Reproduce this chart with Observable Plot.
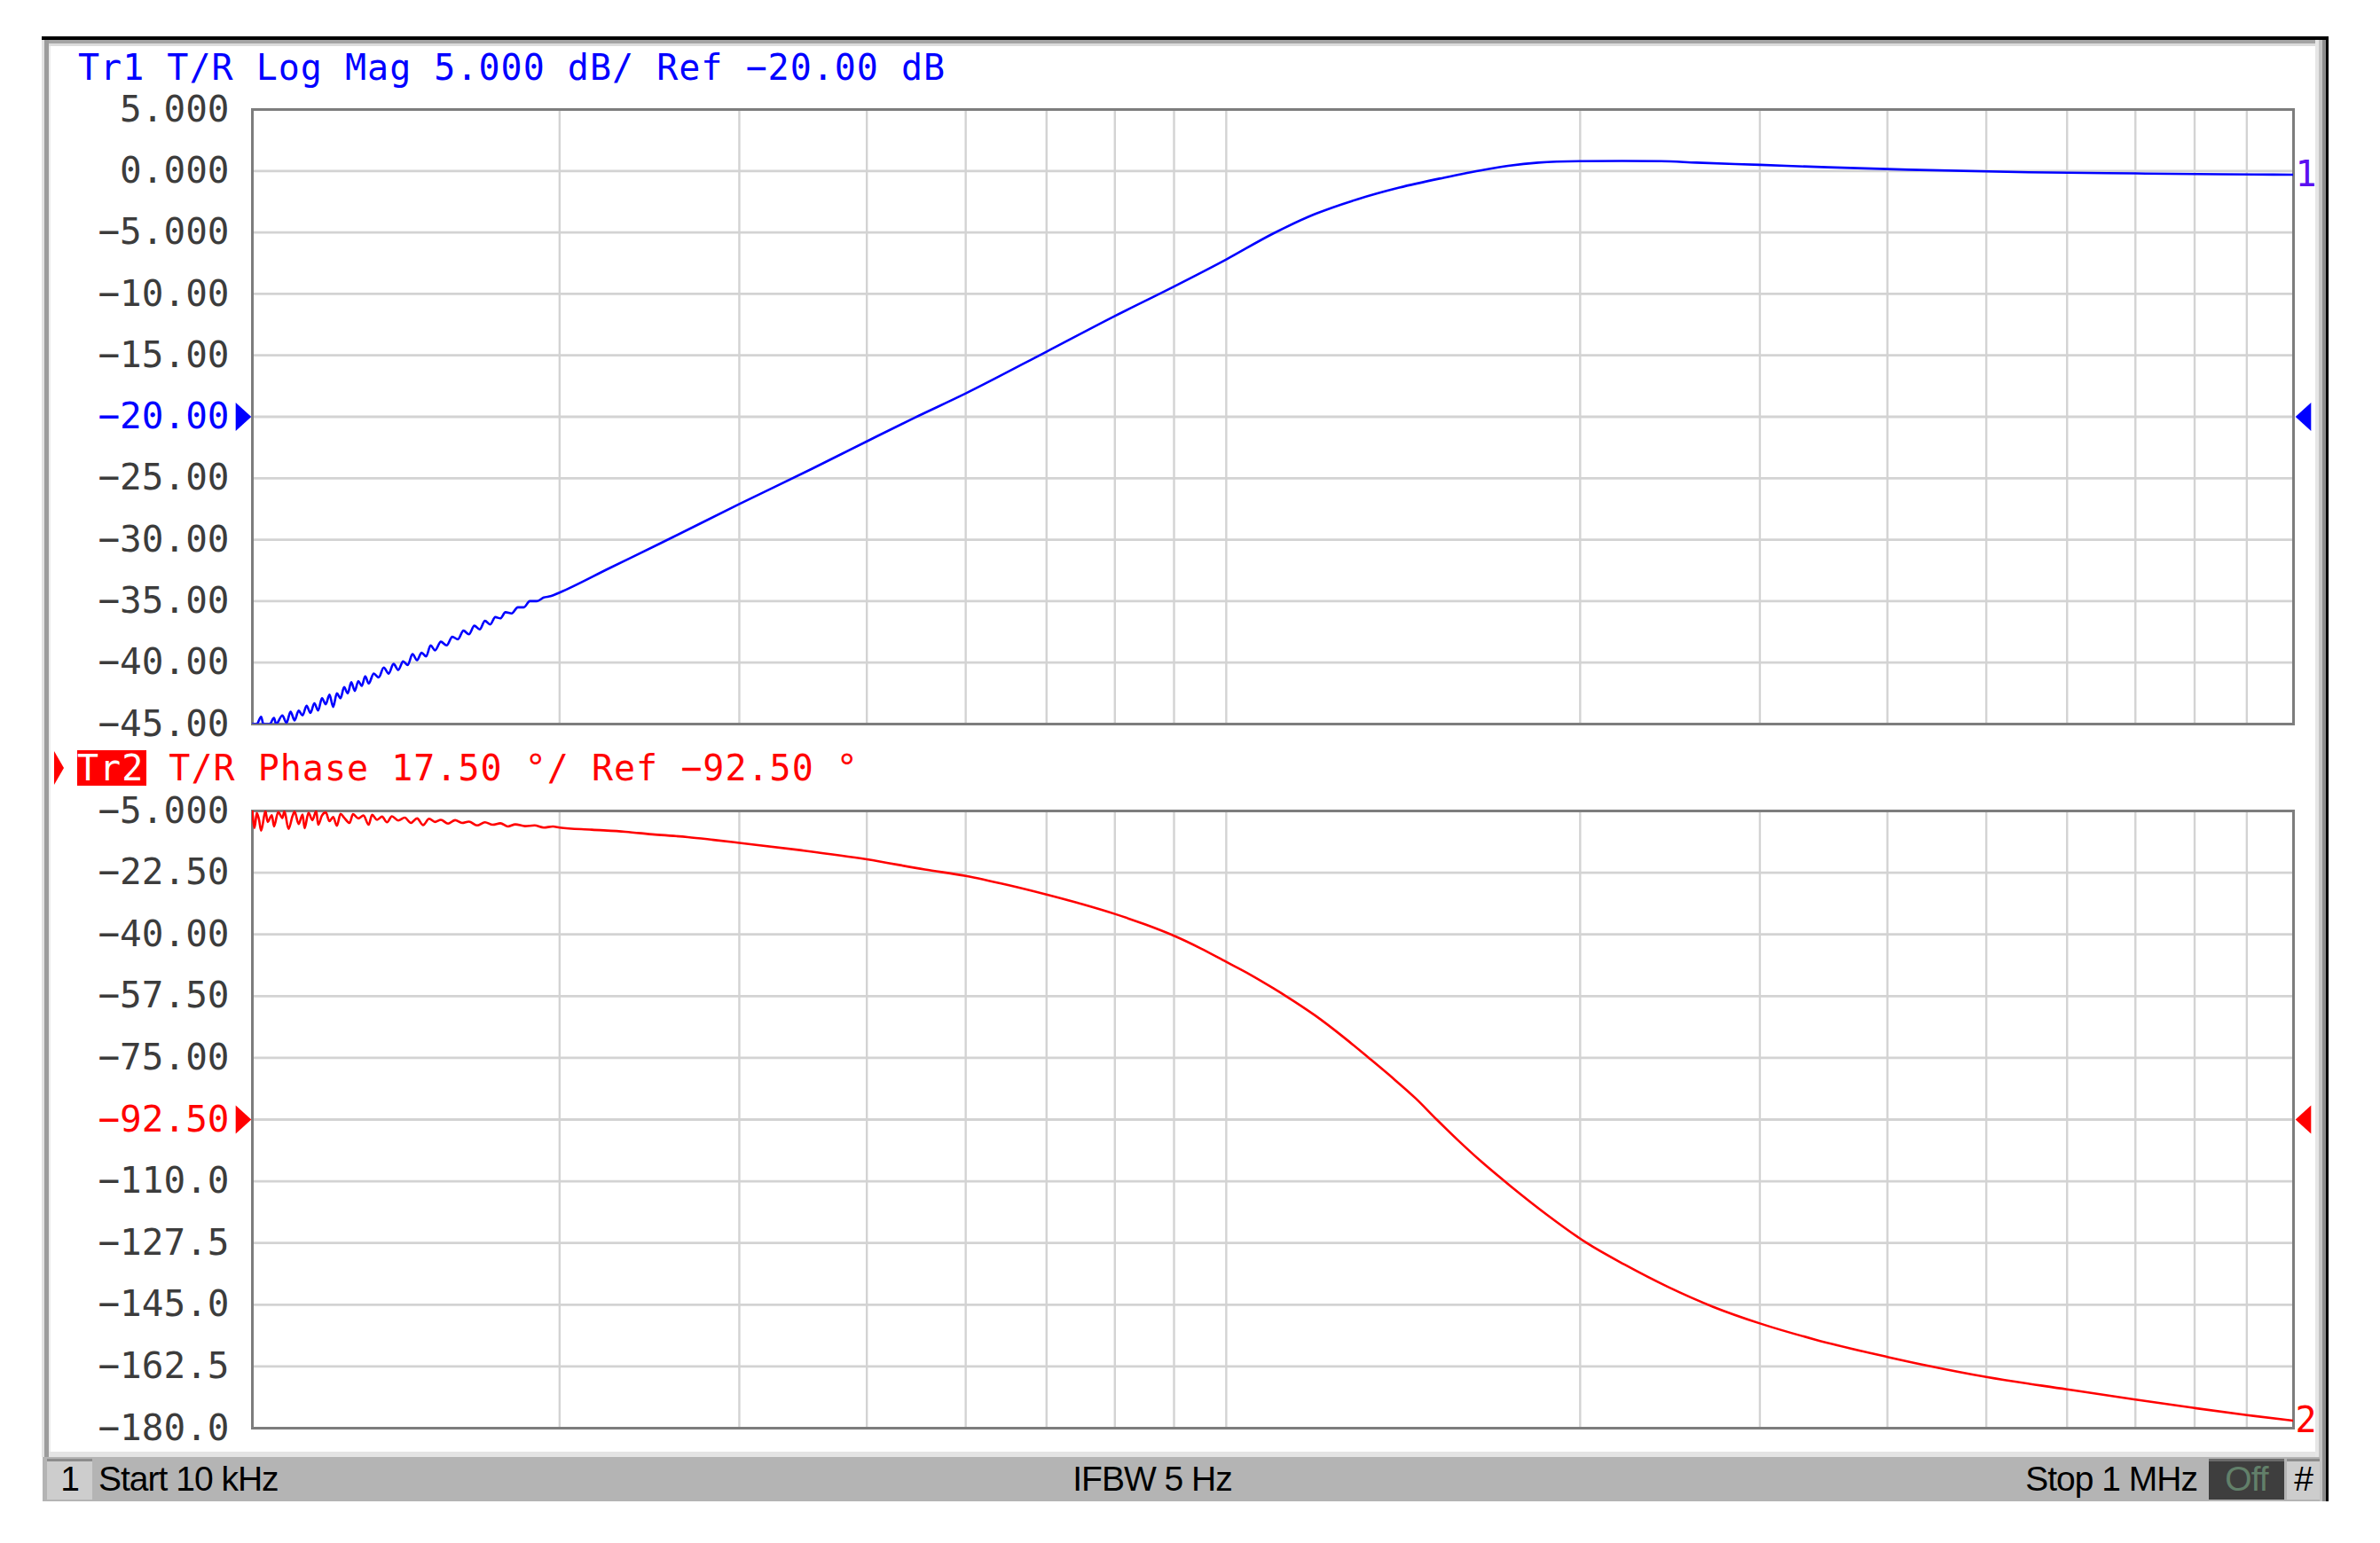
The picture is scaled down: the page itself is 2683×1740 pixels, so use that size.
<!DOCTYPE html>
<html><head><meta charset="utf-8">
<script src="https://cdn.jsdelivr.net/npm/d3@7"></script>
<script src="https://cdn.jsdelivr.net/npm/@observablehq/plot@0.6"></script>
<style>
html,body{margin:0;padding:0;background:#fff;overflow:hidden;}
#page{position:relative;width:2683px;height:1740px;background:#fff;}
.abs{position:absolute;}
.mono{font-family:"DejaVu Sans Mono",monospace;font-size:40px;letter-spacing:1px;white-space:pre;line-height:40px;}
.bar{position:absolute;top:1643px;height:50px;font-family:"Liberation Sans",Arial,sans-serif;font-size:39px;letter-spacing:-1px;line-height:50px;color:#000;white-space:pre;}
</style></head><body><div id="page"></div>
<script>
// ---------- data ----------
// Trace 1: T/R Log Mag (frequency in kHz, magnitude in dB)
const magFreqKHz = [10.0,10.1,10.2,10.25,10.4,10.5,10.55,10.7,10.8,10.9,11.0,11.1,11.2,11.3,11.4,11.5,11.6,11.7,11.8,11.9,12.0,12.1,12.2,12.3,12.4,12.5,12.6,12.7,12.8,12.9,13.0,13.15,13.3,13.45,13.6,13.75,13.9,14.05,14.2,14.35,14.5,14.65,14.8,14.95,15.1,15.3,15.5,15.7,15.9,16.1,16.3,16.5,16.7,16.9,17.1,17.3,17.5,17.7,17.95,18.2,18.45,18.7,19.0,19.3,19.6,20,22.4,25.1,30,35.4,40,44.5,50,60,70,80,90,100,110,121,133,147,161,170,182,200,220,240,260,300,350,420,550,700,850,1000];
const magDb = [-45.0,-45.0,-44.4,-45.0,-45.0,-44.5,-45.0,-44.3,-44.9,-44.0,-44.7,-43.9,-44.3,-43.5,-44.1,-43.3,-43.9,-42.9,-43.4,-42.6,-43.6,-42.5,-42.9,-42.0,-42.5,-41.6,-42.3,-41.5,-41.9,-41.1,-41.7,-40.9,-41.2,-40.4,-40.9,-40.1,-40.6,-39.9,-40.2,-39.3,-39.8,-39.2,-39.5,-38.6,-39.0,-38.3,-38.6,-37.9,-38.1,-37.4,-37.7,-37.0,-37.3,-36.6,-36.9,-36.3,-36.4,-35.9,-36.0,-35.5,-35.5,-35.0,-35.0,-34.7,-34.6,-34.3,-32.3,-30.3,-27.1,-24.2,-22.0,-20.1,-18.1,-14.7,-11.8,-9.4,-7.2,-5.1,-3.5,-2.3,-1.35,-0.55,0.1,0.42,0.68,0.8,0.82,0.8,0.68,0.5,0.3,0.1,-0.1,-0.2,-0.27,-0.3];

// Trace 2: T/R Phase (frequency in kHz, phase in degrees)
const phaseFreqKHz = [10.0,10.05,10.1,10.15,10.2,10.3,10.35,10.45,10.5,10.6,10.7,10.75,10.85,10.95,11.0,11.1,11.2,11.25,11.35,11.45,11.55,11.6,11.7,11.8,11.9,12.0,12.1,12.2,12.3,12.45,12.55,12.7,12.85,13.0,13.1,13.25,13.4,13.55,13.7,13.9,14.1,14.3,14.5,14.7,14.9,15.1,15.3,15.55,15.8,16.05,16.3,16.6,16.9,17.2,17.5,17.8,18.1,18.5,18.9,19.3,19.7,20,21.5,23.2,24.8,26.7,28.3,30,34.4,40,45.6,50,55,60,65,70,75,80,85,90,95,100,103,110,117,124,131,138,144.7,152,160,171,186,203,221,244,270,300,340,400,440,500,600,700,800,900,1000];
const phaseDeg = [-5.0,-9.8,-5.6,-7.4,-10.6,-5.0,-8.1,-6.2,-9.4,-5.3,-7.0,-5.1,-10.1,-6.4,-5.2,-8.7,-6.0,-9.9,-5.5,-7.6,-5.0,-8.9,-6.3,-5.4,-7.9,-6.7,-9.2,-5.8,-6.9,-8.4,-5.9,-7.1,-6.3,-8.9,-6.1,-7.5,-6.6,-8.2,-6.5,-7.7,-6.9,-8.4,-7.1,-9.0,-7.2,-8.1,-7.5,-8.6,-7.6,-8.4,-8.0,-9.1,-8.2,-8.9,-8.5,-9.4,-8.8,-9.3,-9.1,-9.7,-9.4,-9.7,-10.3,-10.9,-11.7,-12.4,-13.2,-14.05,-16.1,-18.7,-21.6,-23.4,-26.0,-28.7,-31.4,-34.2,-37.2,-40.4,-44.0,-47.8,-51.4,-55.2,-57.5,-63.0,-68.9,-74.9,-80.7,-86.5,-92.5,-98.5,-104.4,-111.4,-119.7,-127.5,-133.6,-140.0,-145.6,-150.3,-154.9,-159.8,-162.4,-165.5,-169.0,-171.9,-174.3,-176.3,-177.9];

// Axis ticks and labels
const magTicks = [5,0,-5,-10,-15,-20,-25,-30,-35,-40,-45];
const magTickLabels = ["5.000","0.000","\u22125.000","\u221210.00","\u221215.00","\u221220.00","\u221225.00","\u221230.00","\u221235.00","\u221240.00","\u221245.00"];
const magRef = -20;
const phaseTicks = [-5,-22.5,-40,-57.5,-75,-92.5,-110,-127.5,-145,-162.5,-180];
const phaseTickLabels = ["\u22125.000","\u221222.50","\u221240.00","\u221257.50","\u221275.00","\u221292.50","\u2212110.0","\u2212127.5","\u2212145.0","\u2212162.5","\u2212180.0"];
const phaseRef = -92.5;
const freqGridKHz = [20,30,40,50,60,70,80,90,200,300,400,500,600,700,800,900];

const title1 = "Tr1 T/R Log Mag 5.000 dB/ Ref \u221220.00 dB";
const title2Tag = "Tr2";
const title2 = " T/R Phase 17.50 \u00b0/ Ref \u221292.50 \u00b0";
const statusTexts = {ch: "1", start: "Start 10 kHz", ifbw: "IFBW 5 Hz", stop: "Stop 1 MHz", off: "Off", hash: "#"};

// ---------- build ----------
const page = document.getElementById("page");
function box(l,t,w,h,bg,extra){const d=document.createElement("div");d.className="abs";d.style.cssText=`left:${l}px;top:${t}px;width:${w}px;height:${h}px;background:${bg};`+(extra||"");page.appendChild(d);return d;}

const magData = magFreqKHz.map((f,i)=>({f, v: magDb[i]}));
const phaseData = phaseFreqKHz.map((f,i)=>({f, v: phaseDeg[i]}));
const magLabel = new Map(magTicks.map((t,i)=>[t, magTickLabels[i]]));
const phaseLabel = new Map(phaseTicks.map((t,i)=>[t, phaseTickLabels[i]]));

const triRight = {draw(ctx,size){const r=Math.sqrt(size/Math.PI);ctx.moveTo(-0.55*r,-r);ctx.lineTo(0.55*r,0);ctx.lineTo(-0.55*r,r);ctx.closePath();}};
const triLeft = {draw(ctx,size){const r=Math.sqrt(size/Math.PI);ctx.moveTo(0.55*r,-r);ctx.lineTo(-0.55*r,0);ctx.lineTo(0.55*r,r);ctx.closePath();}};

const W = 2683, ML = 284, MR = 98;
const gridColor = "#d3d3d3", frameColor = "#7d7d7d", tickColor = "#3c3c3c";

function panel({data, ticks, labels, ref, refColor, domain, lineColor, traceNum, traceNumColor, height, mt, mb}) {
  return Plot.plot({
    width: W, height, marginLeft: ML, marginRight: MR, marginTop: mt, marginBottom: mb,
    x: {type: "log", domain: [10, 1000], axis: null},
    y: {domain, axis: null},
    style: {background: "transparent", overflow: "visible", fontFamily: "'DejaVu Sans Mono', monospace"},
    marks: [
      Plot.gridX(freqGridKHz, {stroke: gridColor, strokeOpacity: 1, strokeWidth: 2.4}),
      Plot.gridY(ticks, {stroke: gridColor, strokeOpacity: 1, strokeWidth: 2.8}),
      Plot.frame({stroke: frameColor, strokeWidth: 3}),
      Plot.line(data, {x: "f", y: "v", stroke: lineColor, strokeWidth: 2.6, curve: "monotone-x", clip: true}),
      Plot.axisY(ticks.filter(t => t !== ref), {label: null, tickSize: 0, tickPadding: 26, fontSize: 41, fill: tickColor, tickFormat: d => labels.get(d)}),
      Plot.axisY([ref], {label: null, tickSize: 0, tickPadding: 26, fontSize: 41, fill: refColor, tickFormat: d => labels.get(d)}),
      Plot.dot([ref], {y: d => d, frameAnchor: "left", dx: -10, symbol: triRight, r: 16, fill: refColor, stroke: null}),
      Plot.dot([ref], {y: d => d, frameAnchor: "right", dx: 11, symbol: triLeft, r: 16, fill: refColor, stroke: null}),
      Plot.text([data[data.length - 1]], {y: "v", text: () => traceNum, frameAnchor: "right", dx: 2, textAnchor: "start", fontSize: 40, fill: traceNumColor})
    ]
  });
}

// outer frame
box(47,41,2578,4,"#000");
box(47,45,2575,4,"#a4a4a4");
box(47,49,2575,3,"#dcdcdc");
box(47,45,3,1598,"#e2e2e2");
box(50,45,5,1598,"#9c9c9c");
box(55,52,2,1591,"#ececec");
box(2610,45,4,1648,"#e6e6e6");
box(2614,45,4,1648,"#c4c4c4");
box(2618,45,4,1648,"#8c8c8c");
box(2622,41,3,1652,"#000");
box(55,1637,2555,6,"#e4e4e4");

const p1 = panel({data: magData, ticks: magTicks, labels: magLabel, ref: magRef, refColor: "#0000ff", domain: [-45, 5], lineColor: "#0000ff", traceNum: "1", traceNumColor: "#5a10f0", height: 740, mt: 23, mb: 24});
p1.style.position = "absolute"; p1.style.left = "0px"; p1.style.top = "100px";
page.appendChild(p1);

const p2 = panel({data: phaseData, ticks: phaseTicks, labels: phaseLabel, ref: phaseRef, refColor: "#ff0000", domain: [-180, -5], lineColor: "#ff0000", traceNum: "2", traceNumColor: "#ff0000", height: 760, mt: 34, mb: 30});
p2.style.position = "absolute"; p2.style.left = "0px"; p2.style.top = "880px";
page.appendChild(p2);

// titles
const t1 = document.createElement("div");
t1.className = "abs mono"; t1.style.left = "88px"; t1.style.top = "56px"; t1.style.color = "#0000ff";
t1.textContent = title1; page.appendChild(t1);

box(61,847,11,38,"#ff0000","clip-path:polygon(0 0,100% 50%,0 100%);");
const t2 = document.createElement("div");
t2.className = "abs mono"; t2.style.left = "87px"; t2.style.top = "846px"; t2.style.color = "#ff0000";
const tag = document.createElement("span");
tag.style.cssText = "background:#ff0000;color:#fff;display:inline-block;height:40px;padding-right:3px;";
tag.textContent = title2Tag;
t2.appendChild(tag);
t2.appendChild(document.createTextNode(title2));
page.appendChild(t2);

// status bar
box(48,1643,2567,50,"#b4b4b4");
box(53,1645,51,46,"#cdcdcd","border-top:3px solid #8c8c8c;box-sizing:border-box;");
box(2490,1645,85,46,"#3e3e3e","border-top:3px solid #6a6a6a;box-sizing:border-box;");
box(2578,1645,37,46,"#cdcdcd","border-top:3px solid #8c8c8c;box-sizing:border-box;");
function barText(txt, left, width, align, color){const d=document.createElement("div");d.className="bar";d.style.left=left+"px";d.style.width=width+"px";d.style.textAlign=align;if(color)d.style.color=color;d.textContent=txt;page.appendChild(d);}
barText(statusTexts.ch, 53, 51, "center");
barText(statusTexts.start, 111, 400, "left");
barText(statusTexts.ifbw, 1099, 400, "center");
barText(statusTexts.stop, 2077, 400, "right");
barText(statusTexts.off, 2490, 85, "center", "#62806a");
barText(statusTexts.hash, 2578, 37, "center");
</script></body></html>
